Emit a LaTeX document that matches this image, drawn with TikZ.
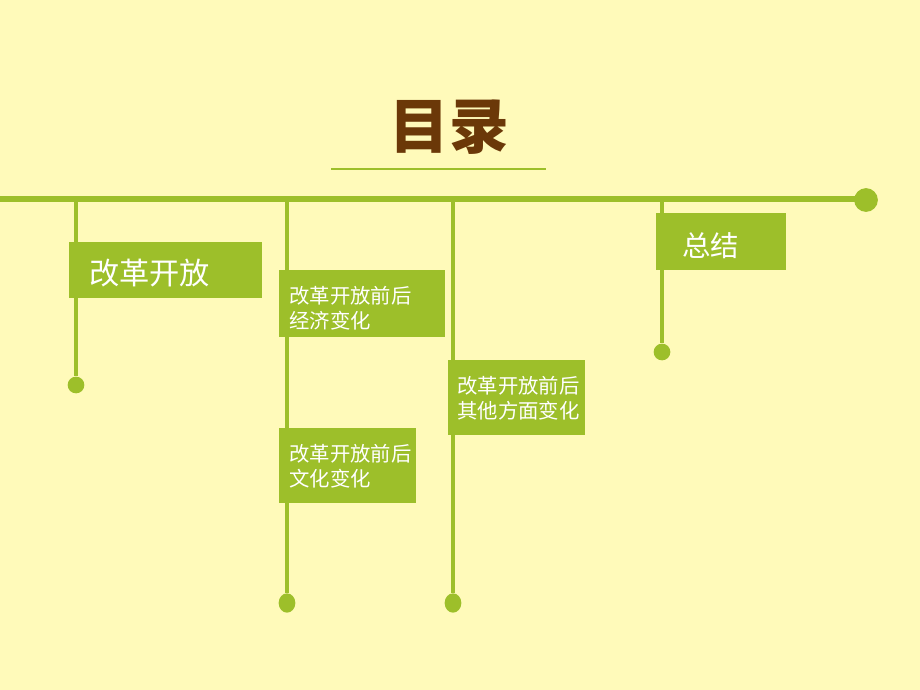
\documentclass[tikz,border=0pt]{standalone}
\usepackage{fontspec}
\newfontfamily\cjk{Noto Sans CJK SC}
\usepackage{tikz}
\usepackage{xcolor}
\usetikzlibrary{calc,positioning,shapes.geometric}
\definecolor{paper}{RGB}{255,250,186}
\definecolor{leaf}{RGB}{157,191,42}
\definecolor{bark}{RGB}{107,56,8}
\tikzset{
    stem/.style={draw=leaf,line width=2.4pt},
    knob/.style={circle,fill=leaf,inner sep=0pt,minimum size=9.5pt},
    tab/.style={fill=leaf,text=white,anchor=north west,inner sep=0pt,align=left},
}

\begin{document}
\begin{tikzpicture}[x=0.02cm,y=-0.02cm]
        \fill[paper] (0,0) rectangle (920,690);
        \useasboundingbox (0,0) rectangle (920,690);
        % title
        \node[text=bark,font=\cjk\bfseries\fontsize{34}{40}\selectfont] (title) at (449,127) {目录};
        \coordinate (ul) at (331,169);
        \coordinate (ur) at (546,169);
        \draw[leaf,line width=1.5pt] (ul) -- (ur);
        % main line
        \coordinate (start) at (0,199);
        \node[knob,minimum size=13.5pt] (end) at (866,200) {};
        \draw[stem,line width=3.4pt] (start) -- (start -| end.center);
        % stems
        \coordinate (t1) at (76,199);
        \coordinate (t2) at (287,199);
        \coordinate (t3) at (453,199);
        \coordinate (t4) at (662,199);
        \node[knob] (d1) at (76,385) {};
        \node[knob,ellipse,minimum width=9.5pt,minimum height=11pt] (d2) at (287,603) {};
        \node[knob,ellipse,minimum width=9.5pt,minimum height=11pt] (d3) at (453,603) {};
        \node[knob] (d4) at (662,352) {};
        \draw[stem] (t1) -- (d1);
        \draw[stem] (t2) -- (d2);
        \draw[stem] (t3) -- (d3);
        \draw[stem] (t4) -- (d4);
        % boxes
        \node[tab,minimum width=193*0.02cm,minimum height=56*0.02cm] (open) at (69,242) {};
        \node[anchor=west,text=white,font=\cjk\fontsize{17.2}{20}\selectfont] (opentext) at (83,273) {改革开放};
        \node[tab,minimum width=166*0.02cm,minimum height=67*0.02cm] (econ) at (279,270) {};
        \node[anchor=north west,text=white,align=left,inner sep=0pt,font=\cjk\fontsize{11.6}{14.4}\selectfont] (econtext) at (289,286) {改革开放前后\\经济变化};
        \node[tab,minimum width=137*0.02cm,minimum height=75*0.02cm] (cult) at (279,428) {};
        \node[anchor=north west,text=white,align=left,inner sep=0pt,font=\cjk\fontsize{11.6}{14.4}\selectfont] (culttext) at (289,444) {改革开放前后\\文化变化};
        \node[tab,minimum width=137*0.02cm,minimum height=75*0.02cm] (other) at (448,360) {};
        \node[anchor=north west,text=white,align=left,inner sep=0pt,font=\cjk\fontsize{11.6}{14.4}\selectfont] (othertext) at (457,376) {改革开放前后\\其他方面变化};
        \node[tab,minimum width=130*0.02cm,minimum height=57*0.02cm] (sum) at (656,213) {};
        \node[anchor=west,text=white,font=\cjk\fontsize{16.2}{19}\selectfont] (sumtext) at (676,246) {总结};
\end{tikzpicture}
\end{document}
